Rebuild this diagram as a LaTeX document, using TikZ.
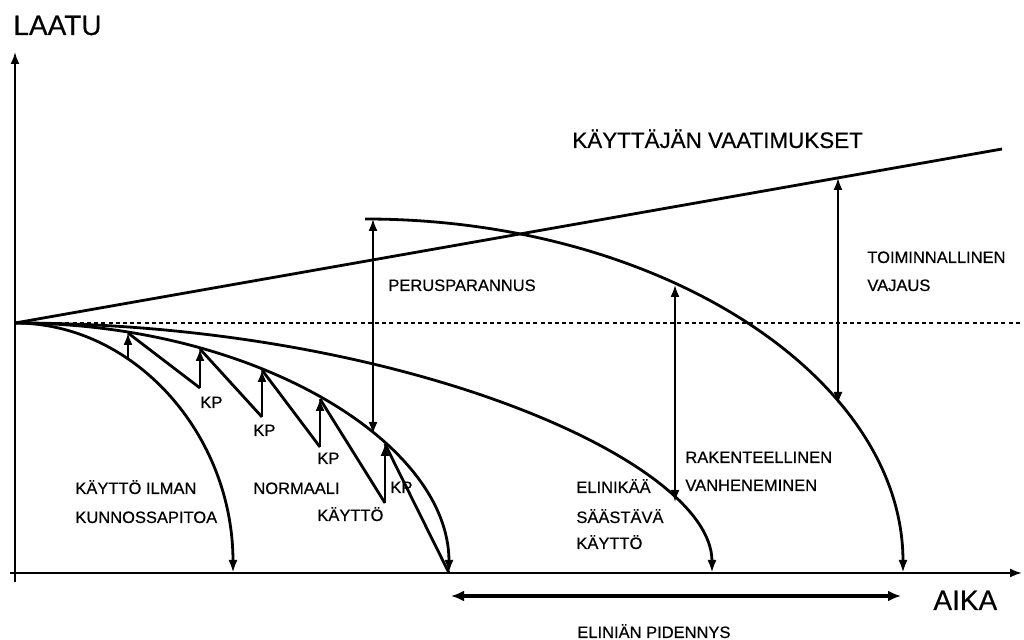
\documentclass[tikz,border=0pt]{standalone}
\usepackage{fontspec}
\setmainfont{Liberation Sans}
\newfontfamily\labfont[FakeBold=0.5]{Liberation Sans}
\usetikzlibrary{arrows.meta}
\begin{document}
\begin{tikzpicture}[x=0.5pt,y=-0.5pt,
  curve/.style={line width=1.4pt},
  curvearr/.style={line width=1.4pt,-{Latex[length=6.5pt,width=4.5pt]}},
  axis/.style={line width=1pt,-{Latex[length=6pt,width=4.5pt]}},
  kparr/.style={line width=0.9pt,-{Latex[length=6pt,width=4.5pt]}},
  dimarr/.style={line width=0.9pt,{Latex[length=6pt,width=4.5pt]}-{Latex[length=6pt,width=4.5pt]}},
  longarr/.style={line width=1.6pt,{Latex[length=6.5pt,width=5.5pt]}-{Latex[length=6.5pt,width=5.5pt]}},
  dotline/.style={line width=1pt,dash pattern=on 2pt off 1.6pt},
  lab/.style={anchor=base west,inner sep=0pt,font=\labfont\fontsize{8.25}{10}\selectfont},
  big/.style={anchor=base west,inner sep=0pt,font=\labfont\fontsize{14}{16}\selectfont},
  title/.style={anchor=base west,inner sep=0pt,font=\labfont\fontsize{11.2}{13}\selectfont}
]
\useasboundingbox (0,0) rectangle (1024,640);
\fill[white] (0,0) rectangle (1024,640);

% coordinates
\coordinate (O) at (15,323);
\coordinate (ybot) at (15,582);
\coordinate (ytop) at (15,52);
\coordinate (xl) at (10,573);
\coordinate (xr) at (1022,573);
\coordinate (req) at (1002,149);
\coordinate (dotend) at (1022,323);
\coordinate (e1) at (233,573);
\coordinate (e2) at (449,573);
\coordinate (e3) at (712,573);
\coordinate (p0) at (365,219);
\coordinate (e4) at (903,573);

% axes
\draw[axis] (ybot) -- (ytop);
\draw[axis] (xl) -- (xr);

% dotted level and user requirement line
\draw[dotline] (O) -- (dotend);
\draw[curve] (O) -- (req);

% curves
\draw[curvearr] (O) .. controls (135,323) and (233,435) .. (e1);
\draw[curvearr] (O) .. controls (254,323) and (449,442) .. (e2);
\draw[curvearr] (O) .. controls (398,323) and (712,460) .. (e3);
\draw[curvearr] (p0) .. controls (662,219) and (903,378) .. (e4);

% sawtooth (normal use with KP)
\coordinate (a0) at (128,360);
\coordinate (t1) at (128,333);
\coordinate (b1) at (200,388);
\coordinate (t2) at (200,349);
\coordinate (b2) at (262,417);
\coordinate (t3) at (262,370);
\coordinate (b3) at (320,447);
\coordinate (t4) at (320,399);
\coordinate (b4) at (385,503);
\coordinate (t5) at (385,444);
\draw[kparr] (a0) -- (t1);
\draw[curve] (t1) -- (b1);
\draw[kparr] (b1) -- (t2);
\draw[curve] (t2) -- (b2);
\draw[kparr] (b2) -- (t3);
\draw[curve] (t3) -- (b3);
\draw[kparr] (b3) -- (t4);
\draw[curve] (t4) -- (b4);
\draw[kparr] (b4) -- (t5);
\draw[curve] (t5) -- (e2);

% dimension arrows
\coordinate (pu) at (373,219);
\coordinate (pd) at (373,434);
\draw[dimarr] (pd) -- (pu);
\coordinate (ru) at (675,285);
\coordinate (rd) at (675,502);
\draw[dimarr] (rd) -- (ru);
\coordinate (tu) at (838,178);
\coordinate (td) at (838,404);
\draw[dimarr] (td) -- (tu);
\coordinate (ll) at (451,596);
\coordinate (lr) at (901,596);
\draw[longarr] (ll) -- (lr);

% labels
\node[big] (laatu) at (13,35) {LAATU};
\node[big] (aika) at (933,610) {AIKA};
\node[title] (kv) at (572,148) {KÄYTTÄJÄN VAATIMUKSET};
\node[lab] (perus) at (388,291) {PERUSPARANNUS};
\node[lab] (toim1) at (867,263) {TOIMINNALLINEN};
\node[lab] (toim2) at (867,291) {VAJAUS};
\node[lab] (rak1) at (685,463) {RAKENTEELLINEN};
\node[lab] (rak2) at (685,491) {VANHENEMINEN};
\node[lab] (el1) at (576,493) {ELINIKÄÄ};
\node[lab] (el2) at (576,523) {SÄÄSTÄVÄ};
\node[lab] (el3) at (576,549) {KÄYTTÖ};
\node[lab] (ki1) at (75,494) {KÄYTTÖ ILMAN};
\node[lab] (ki2) at (75,523) {KUNNOSSAPITOA};
\node[lab] (no1) at (253,494) {NORMAALI};
\node[lab] (no2) at (317,521) {KÄYTTÖ};
\node[lab] (kp1) at (200,408) {KP};
\node[lab] (kp2) at (253,436) {KP};
\node[lab] (kp3) at (317,464) {KP};
\node[lab] (kp4) at (390,493) {KP};
\node[lab] (elp) at (577,638) {ELINIÄN PIDENNYS};
\end{tikzpicture}
\end{document}
